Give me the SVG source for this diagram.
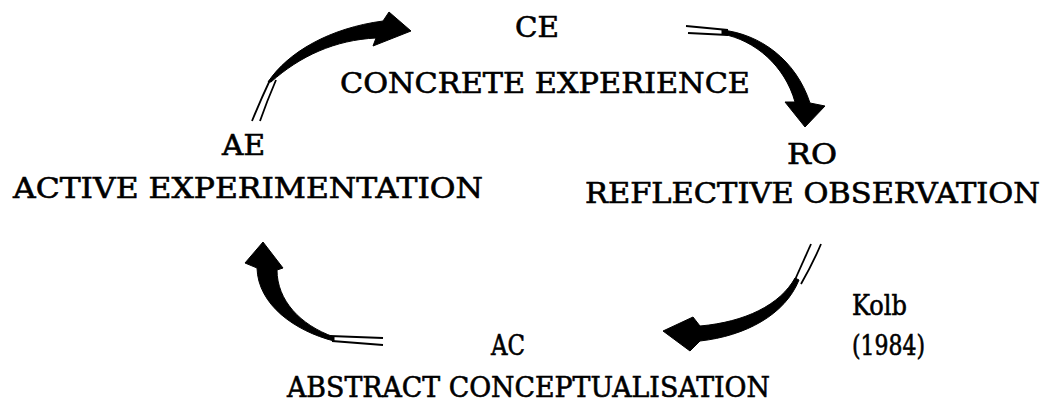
<svg xmlns="http://www.w3.org/2000/svg" width="1042" height="402" viewBox="0 0 1042 402">
<style>
  .t { font-family: "DejaVu Serif", "Liberation Serif", serif; font-size: 27px; fill: #000; stroke: #000; stroke-width: 0.6; }
  .body { fill: #000; stroke: #000; stroke-width: 1; stroke-linejoin: miter; }
  .tail { fill: none; stroke: #000; stroke-width: 1.8; stroke-linecap: butt; }
</style>
<rect width="1042" height="402" fill="#fff"/>
<g id="connectors">
  <g id="arrow-ae-ce">
    <path class="body" d="M268,82 C288,52 330,28 383,21 L389,12 L411,31 L373,46 L376,38 C335,40 300,56 271,82 Z"/>
    <path class="tail" d="M270,80 Q261,99 252,121"/>
    <path class="tail" d="M276,80 Q267,101 260,121"/>
  </g>
  <g id="arrow-ce-ro">
    <path class="body" d="M722,30 C760,34 796,60 810,103 L825,106 L805,127 L785,102 L795,102 C785,66 755,40 722,34 Z"/>
    <path class="tail" d="M686,26 L728,30"/>
    <path class="tail" d="M688,33 L728,35"/>
  </g>
  <g id="arrow-ro-ac">
    <path class="body" d="M795,278 C780,305 745,322 700,326 L693,317 L663,331 L690,351 L700,341 C745,336 785,315 799,280 Z"/>
    <path class="tail" d="M811,244 Q803,262 794,282"/>
    <path class="tail" d="M821,244 Q813,263 801,284"/>
  </g>
  <g id="arrow-ac-ae">
    <path class="body" d="M334,341 C295,331 258,305 257,268 L245,263 L263,242 L283,268 L277,270 C277,300 300,325 334,337 Z"/>
    <path class="tail" d="M383,338 L330,336"/>
    <path class="tail" d="M383,345 L332,341"/>
  </g>
</g>
<g id="node-ce">
  <text class="t" x="515" y="37" textLength="44" lengthAdjust="spacingAndGlyphs">CE</text>
  <text class="t" x="340" y="93" textLength="410" lengthAdjust="spacingAndGlyphs">CONCRETE EXPERIENCE</text>
</g>
<g id="node-ro">
  <text class="t" x="787" y="164" textLength="50" lengthAdjust="spacingAndGlyphs">RO</text>
  <text class="t" x="585" y="203" textLength="455" lengthAdjust="spacingAndGlyphs">REFLECTIVE OBSERVATION</text>
</g>
<g id="node-ac">
  <text class="t" x="491" y="355" textLength="34" lengthAdjust="spacingAndGlyphs">AC</text>
  <text class="t" x="287" y="397" textLength="483" lengthAdjust="spacingAndGlyphs">ABSTRACT CONCEPTUALISATION</text>
</g>
<g id="node-ae">
  <text class="t" x="222" y="155" textLength="43" lengthAdjust="spacingAndGlyphs">AE</text>
  <text class="t" x="13" y="198" textLength="470" lengthAdjust="spacingAndGlyphs">ACTIVE EXPERIMENTATION</text>
</g>
<g id="citation">
  <text class="t" x="852" y="315" textLength="55" lengthAdjust="spacingAndGlyphs">Kolb</text>
  <text class="t" x="852" y="355" textLength="73" lengthAdjust="spacingAndGlyphs">(1984)</text>
</g>
</svg>
